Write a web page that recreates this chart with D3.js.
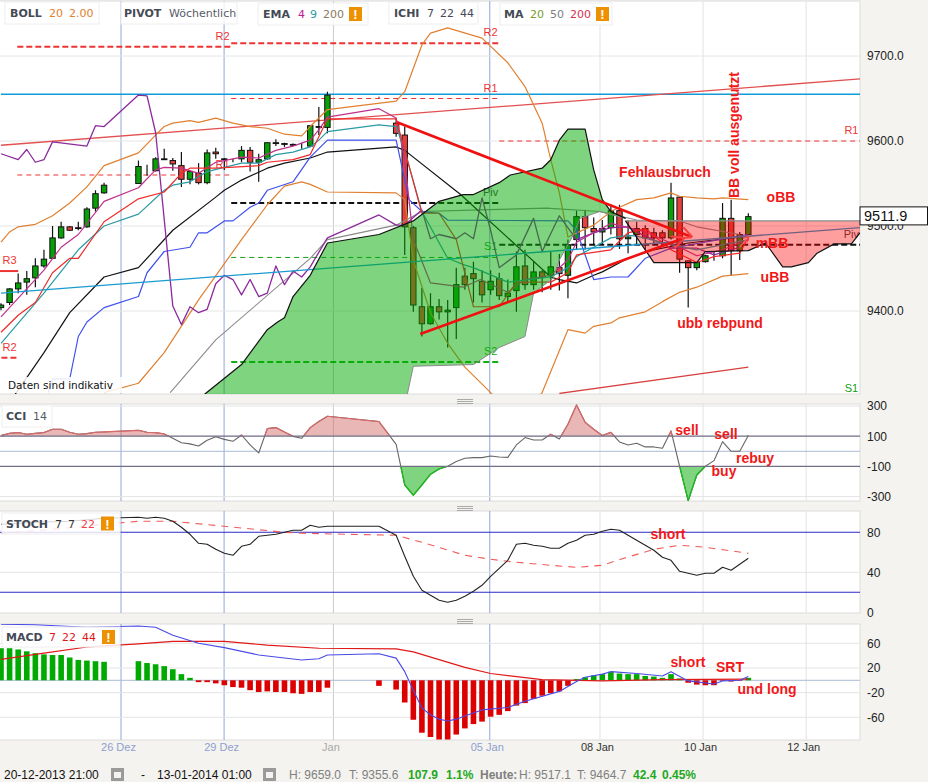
<!DOCTYPE html>
<html>
<head>
<meta charset="utf-8">
<script src="https://cdn.jsdelivr.net/npm/d3@7/dist/d3.min.js"></script>
<style>
  html, body { margin: 0; padding: 0; background: #f4f3ef; }
  svg { display: block; }
  text { font-family: 'Liberation Sans', Arial, sans-serif; }
  .ui { font-family: 'DejaVu Sans', sans-serif; }
</style>
</head>
<body>
<svg id="chart" width="928" height="782"></svg>
<script>

var n = null;

// candles, one slot per 4h bar, null where the market was closed
var candleOpen = [
  9404,9410,9426,9434,9439,9453,9462,9486,9499,9498,
  9499,9521,9539,n,n,n,9550,9567,9565,9578,
  9577,9571,9555,9562,9551,9587,9579,9578,9579,9589,
  9575,9579,9598,9597,9596,9594,9594,9617,9616,n,
  n,n,n,n,9652,n,9621,9607,9498,9405,
  9385,9405,9399,9404,9441,9444,9435,9425,9438,9417,
  9424,9453,9431,9446,9442,9451,9442,9484,9511,9497,
  9493,9498,9518,9485,9490,9497,9492,9492,9486,9534,
  9459,9451,9458,9465,9465,9509,9471,9490
];
var candleHigh = [
  9409,9427,9444,9447,9462,9472,9500,9505,9500,9505,
  9522,9542,9551,n,n,n,9577,9572,9581,9591,
  9580,9587,9566,9574,9590,9592,9580,9579,9594,9593,
  9585,9598,9602,9598,9597,9598,9618,9640,9658,n,
  n,n,n,n,9652,n,9627,9617,9500,9427,
  9421,9414,9413,9451,9451,9458,9448,9448,9445,9437,
  9470,9472,9458,9448,9470,9467,9484,9518,9519,9510,
  9507,9525,9525,9507,9505,9501,9498,9495,9551,9534,
  9459,9457,9466,9470,9527,9531,9493,9515
];
var candleLow = [
  9401,9407,9421,9419,9428,9451,9462,9485,9494,9495,
  9498,9517,9538,n,n,n,9550,9559,9564,9578,
  9565,9546,9549,9549,9549,9579,9566,9575,9575,9564,
  9552,9578,9594,9593,9594,9591,9593,9607,9609,n,
  n,n,n,n,9651,n,9605,9466,9399,9370,
  9384,9390,9357,9367,9425,9410,9410,9419,9413,9411,
  9399,9425,9425,9422,9425,9424,9415,9472,9472,9478,
  9478,9490,9473,9468,9478,9472,9478,9478,9484,9445,
  9404,9448,9457,9459,9462,9442,9460,9490
];
var candleClose = [
  9407,9426,9433,9438,9453,9461,9486,9499,9495,9497,
  9520,9538,9548,n,n,n,9570,9567,9579,9579,
  9573,9555,9564,9551,9586,9585,9578,9578,9589,9575,
  9578,9598,9597,9596,9595,9594,9618,9616,9654,n,
  n,n,n,n,9652,n,9609,9499,9407,9385,
  9405,9399,9401,9431,9431,9438,9419,9435,9418,9421,
  9452,9431,9446,9440,9452,9444,9478,9511,9498,9493,
  9497,9518,9485,9487,9497,9486,9486,9486,9533,9461,
  9451,9457,9465,9465,9509,9471,9490,9511
];

// indicator lines as [ bar, price ]
var bollUpper = [[0,9481],[1,9493],[2,9499],[4,9502],[6,9512],[8,9527],[10,9546],[12,9571],[16,9586],[18,9607],[19,9617],[20,9621],[22,9624],[23,9622],[25,9627],[27,9621],[29,9617],[31,9615],[33,9608],[35,9606],[36,9617],[38,9637],[46,9647],[47,9658],[49,9713],[50,9727],[52,9733],[56,9721],[59,9692],[61,9664],[63,9621],[64,9578],[65,9539],[66,9487],[69,9501],[71,9517],[72,9522],[74,9531],[76,9533],[78,9539],[79,9535],[81,9533],[83,9532],[84,9533],[87,9531]];
var bollLower = [[12,9304],[16,9315],[19,9351],[23,9413],[28,9484],[31,9525],[33,9547],[35,9552],[36,9549],[38,9540],[46,9539],[47,9531],[48,9460],[50,9398],[52,9362],[54,9334],[57,9304],[60,9266],[63,9304],[66,9378],[68,9374],[69,9382],[71,9386],[72,9392],[75,9399],[77,9411],[79,9422],[81,9428],[84,9441],[87,9444]];
var emaBlack = [[0,9279],[2,9307],[5,9351],[8,9398],[12,9440],[16,9451],[20,9495],[25,9534],[26,9542],[28,9554],[31,9568],[33,9574],[36,9580],[38,9587],[46,9593],[47,9589],[53.5,9537],[64,9440],[65,9437],[67,9433],[69,9442],[70,9446],[73,9462],[76,9472],[80,9480],[87,9488]];
var maBlue = [[5.5,9304],[6,9320],[8,9320],[9,9370],[10,9387],[12,9404],[16,9417],[17,9445],[19,9470],[22,9475],[23,9492],[24,9492],[26,9506],[27,9506],[29,9522],[30,9527],[31,9542],[34,9552],[36,9581],[38,9601],[46,9601],[47.5,9531],[49,9517],[51,9515],[52,9507],[66,9506],[67,9495],[69,9437],[71,9440],[73,9440],[75,9462],[78,9474],[87,9490]];
var maGray = [[19.7,9304],[25,9366],[36,9462],[38,9484],[46,9501],[49,9517],[55.8,9519],[63.5,9521],[69.7,9517],[74,9507],[79,9506],[81,9499],[86,9490]];
var emaPink = [[0,9393],[5,9448],[7,9475],[9,9490],[12,9529],[16,9545],[18,9566],[19,9569],[21,9568],[23,9562],[25,9575],[27,9579],[28,9581],[30,9580],[32,9589],[34,9594],[36,9601],[37,9613],[38,9628],[44,9638],[46,9627],[47,9578],[48,9484],[50,9433],[53.8,9428],[55.8,9437],[59,9422],[61,9437],[64,9442],[66,9460],[67,9481],[69,9492],[71,9503],[75,9493],[78,9480],[81,9465],[84,9472],[87,9484]];
var ichiPurple = [[0,9585],[2,9578],[3,9590],[4,9575],[5,9578],[6,9599],[10,9594],[11,9618],[12,9617],[16,9654],[17,9653],[18,9610],[20,9406],[21,9384],[22,9405],[23,9398],[24,9402],[25,9432],[26,9442],[27,9437],[28,9419],[29,9437],[30,9417],[31,9421],[32,9453],[33,9431],[34,9447],[35,9440],[36,9452],[38,9486],[44,9513],[46,9501],[47,9501],[49,9519],[50,9485],[51,9490],[53,9485],[54,9492],[55,9485],[56,9533],[57,9495],[58,9451],[60,9466],[62,9509],[63,9470],[65,9512],[67,9484],[69,9492],[71,9498],[73,9499],[74,9493],[78,9474],[81,9474],[83,9466],[86,9475]];
var emaTeal = [[0,9362],[5,9421],[9,9472],[12,9500],[16,9514],[19,9542],[20,9548],[22,9552],[24,9564],[28,9574],[30,9574],[32,9584],[34,9587],[36,9593],[37,9601],[38,9611],[44,9619],[46,9617],[47,9589],[49,9517],[52,9462],[54,9454],[55,9451],[59,9434],[64,9440],[66,9451],[67,9464],[71,9486],[73,9489],[74,9488],[78,9478],[81,9472],[87,9484]];
var maRed = [[0,9375],[2,9395],[4,9410],[6,9445],[8,9462],[9,9462],[12,9505],[16,9532],[19,9540],[21,9562],[22,9568],[25,9568],[30,9571],[31,9575],[34,9578],[36,9584],[38,9626],[46,9626],[47,9589],[49,9515],[51,9515],[53,9484],[55,9405],[58,9405],[60,9434],[64,9434],[66,9445],[67,9466],[71,9472],[73,9492],[75,9497],[78,9472],[81,9457],[83,9464],[86,9468],[87,9487]];

// ichimoku cloud edges
var cloudGreenTop = [[23.7,9302],[28,9337],[31,9378],[32.2,9387],[33,9392],[34,9417],[36,9442],[38,9480],[44,9490],[48,9506],[51,9529],[53.8,9537],[55,9537],[58,9551],[59.3,9560],[63,9568],[64,9578],[65,9601],[66,9614],[68,9614],[69,9566],[70,9531],[71,9517],[72.7,9509]];
var cloudGreenBase = [[23.7,9270],[46,9270],[47.3,9302],[48,9335],[55,9337],[58,9357],[61,9370],[62,9421],[64.3,9439],[65,9460],[66.5,9487],[67.4,9509],[69.7,9517],[72.7,9509]];
var cloudRedTop = [[72.7,9506],[100,9506]];
var cloudRedBase = [[72.7,9506],[76,9457],[81,9457],[82,9470],[87,9471],[89,9480],[91,9452],[92,9452],[94,9457],[95,9468],[97,9479],[99,9479],[100,9492]];

// straight studies and pivots
var trendUpper = [[0,9595],[100,9673]];
var trendBlue = [[0,9421],[100,9498]];
var trendLower = [[65,9303],[87,9334]];
var levelBlue = [[0,9655],[100,9655]];
var wedgeTop = [[46.1,9622],[80.2,9488]];
var wedgeBottom = [[48.8,9373],[79.3,9485]];
var reboundArrow = [[86,9475],[87,9487]];

var pivotNames = [ 'R3', 'R2', 'R2', 'R1', 'R2', 'R1', 'Piv', 'S1', 'S2', 'R1', 'Piv', 'S1' ];
var pivotFrom = [ -1, -1, 1.9, 1.9, 26.8, 26.8, 26.8, 26.8, 26.8, 58, 58, 58 ];
var pivotTo = [ 2, 2, 26.8, 26.8, 58, 58, 58, 58, 58, 100, 100, 100 ];
var pivotPrice = [ 9447, 9345, 9711, 9560, 9715, 9650, 9527, 9463, 9340, 9600, 9478, 9297 ];

// lower panes
var cciValues = [
  104,119,124,113,119,124,146,146,126,113,
  117,126,128,n,n,n,139,126,124,115,
  86,57,49,35,73,97,79,66,108,42,
  -11,150,157,128,99,86,157,197,232,n,
  n,n,n,n,197,n,46,-223,-291,-223,
  -152,-117,-99,-68,-46,-42,-42,-31,-38,-40,
  42,91,75,75,113,82,179,307,192,146,
  104,126,62,42,53,29,29,20,135,-99,
  -327,-157,-99,-62,64,0,0,104
];
var stochK = [
  88,n,n,n,90,n,n,n,91,n,
  n,n,94,n,n,n,95,94,95,94,
  91,85,78,69,68,63,59,57,66,68,
  76,77,78,80,82,82,87,85,86,n,
  n,n,n,n,86,n,77,56,36,22,
  17,12,10,12,16,21,27,36,44,52,
  68,69,67,66,64,64,69,72,77,78,
  81,83,82,77,72,67,62,55,52,41,
  39,37,39,39,45,42,48,54
];
var stochD = [[0,79],[6,83],[12,88],[16,91],[20,91],[26,86],[33,80],[35,79],[46,77],[49,70],[54,57],[57,53],[60,50],[64,47],[67,45],[70,47],[72.5,54],[76,63],[79,67],[82,65],[87,59]];
var macdHist = [
  52,52,50,47,44,42,41,41,37,33,
  32,31,30,n,n,n,31,28,26,23,
  18,10,4,-3,-3,-5,-8,-11,-12,-16,
  -19,-18,-19,-19,-21,-22,-19,-19,-12,n,
  n,n,n,n,-9,n,-15,-36,-64,-85,
  -92,-96,-96,-88,-78,-71,-67,-59,-56,-50,
  -41,-37,-30,-25,-21,-18,-9,2,5,8,
  10,14,11,10,10,7,6,4,10,3,
  -4,-7,-8,-8,-1,-2,-1,4
];
var macdFast = [[0,91],[4,90],[10,86],[16,88],[18,86],[20,73],[23,60],[26,53],[30,41],[35,33],[37,35],[38,41],[44,43],[46,36],[47,14],[48,-16],[49,-45],[50,-56],[51,-63],[52,-66],[53,-63],[54,-58],[56,-48],[59,-44],[61,-34],[65,-18],[67,-2],[68,5],[70,10],[71,14],[74,11],[77,7],[78,14],[80,-1],[83,-6],[84,-1],[86,0],[87,6]];
var macdSlow = [[0,34],[5,44],[10,54],[16,59],[20,63],[26,63],[31,57],[37,52],[46,51],[48,46],[54,21],[57,11],[63,1],[70,-1],[77,1],[87,2]];

// axes
var dateTicks = [ 13.97, 25.97, 38.7, 56.9, 69.73, 81.73, 93.73 ];
var dateLabels = [ '26 Dez', '29 Dez', 'Jan', '05 Jan', '08 Jan', '10 Jan', '12 Jan' ];
var priceTicks = [ 9700, 9600, 9500, 9400 ];
var cciTicks = [ 300, 100, -100, -300 ];
var stochTicks = [ 80, 40, 0 ];
var macdTicks = [ 60, 20, -20, -60 ];
var lastPrice = 9511.9;

var gridColors = [ '#93a6d8', '#93a6d8', '#cccccc', '#93a6d8', '#e2e2e2', '#e2e2e2', '#e2e2e2' ];
var dateColors = [ '#8e9fd0', '#8e9fd0', '#aaaaaa', '#8e9fd0', '#333333', '#333333', '#333333' ];

var svg = d3.select( '#chart' );

var x = d3.scaleLinear().domain( [ 0, 100 ] ).range( [ 1, 860 ] );
var yPrice = d3.scaleLinear().domain( [ 9400, 9700 ] ).range( [ 311, 56 ] );
var yCci = d3.scaleLinear().domain( [ -300, 300 ] ).range( [ 496.6, 406 ] );
var yStoch = d3.scaleLinear().domain( [ 0, 80 ] ).range( [ 612.3, 532.3 ] );
var yMacd = d3.scaleLinear().domain( [ -60, 60 ] ).range( [ 717.3, 643.3 ] );

var panes = [
  { id: 'main', top: 1, bottom: 394 },
  { id: 'cci', top: 404, bottom: 501 },
  { id: 'stoch', top: 511, bottom: 613 },
  { id: 'macd', top: 624, bottom: 740 }
];

function slots( values ) {
  return values.map( ( v, i ) => [ i, v ] ).filter( d => d[ 1 ] !== null );
}

function path_for( y ) {
  return d3.line().x( d => x( d[ 0 ] ) ).y( d => y( d[ 1 ] ) );
}

function draw_line( g, data, y, color, width, dash ) {
  return g.append( 'path' )
    .attr( 'd', path_for( y )( data ) )
    .attr( 'fill', 'none' )
    .attr( 'stroke', color )
    .attr( 'stroke-width', width )
    .attr( 'stroke-dasharray', dash || null )
    .attr( 'stroke-linejoin', 'round' );
}

function draw_level( g, y, value, color, width ) {
  g.append( 'line' )
    .attr( 'x1', 0 ).attr( 'x2', 860 )
    .attr( 'y1', y( value ) ).attr( 'y2', y( value ) )
    .attr( 'stroke', color )
    .attr( 'stroke-width', width || 1 );
}

function draw_pane( pane ) {

  svg.append( 'clipPath' )
    .attr( 'id', 'clip-' + pane.id )
    .append( 'rect' )
      .attr( 'x', 0 ).attr( 'y', pane.top )
      .attr( 'width', 860 ).attr( 'height', pane.bottom - pane.top );

  svg.append( 'rect' )
    .attr( 'x', -1 ).attr( 'y', pane.top )
    .attr( 'width', 861 ).attr( 'height', pane.bottom - pane.top )
    .attr( 'fill', '#ffffff' )
    .attr( 'stroke', '#dcdcdc' );

  var g = svg.append( 'g' ).attr( 'clip-path', 'url(#clip-' + pane.id + ')' );

  g.selectAll( '.date-grid' )
    .data( dateTicks )
    .enter()
    .append( 'line' )
      .attr( 'x1', d => x( d ) ).attr( 'x2', d => x( d ) )
      .attr( 'y1', pane.top ).attr( 'y2', pane.bottom )
      .attr( 'stroke', ( d, i ) => gridColors[ i ] );

  return g;

}

function draw_value_axis( y, ticks, format ) {

  var axis = svg.append( 'g' )
    .attr( 'transform', 'translate(860,0)' )
    .call( d3.axisRight( y ).tickValues( ticks ).tickSize( 0 ).tickPadding( 7 ).tickFormat( format ) );

  axis.select( '.domain' ).remove();
  axis.selectAll( 'text' )
    .attr( 'font-family', "'Liberation Sans', Arial, sans-serif" )
    .attr( 'font-size', 12 )
    .attr( 'fill', '#222222' );

}

function draw_tag( x0, y0, width, height, parts, warn_x ) {

  svg.append( 'rect' )
    .attr( 'x', x0 ).attr( 'y', y0 )
    .attr( 'width', width ).attr( 'height', height )
    .attr( 'fill', '#ffffff' ).attr( 'fill-opacity', 0.82 )
    .attr( 'stroke', '#eeeeee' );

  parts.forEach( p => {
    svg.append( 'text' )
      .attr( 'class', 'ui' )
      .attr( 'x', p.x )
      .attr( 'y', y0 + height / 2 + 4 )
      .attr( 'font-size', 11 )
      .attr( 'font-weight', p.bold ? 'bold' : 'normal' )
      .attr( 'fill', p.color )
      .text( p.text );
  } );

  if( warn_x ) {
    svg.append( 'rect' )
      .attr( 'x', warn_x ).attr( 'y', y0 + height / 2 - 7 )
      .attr( 'width', 13 ).attr( 'height', 14 )
      .attr( 'fill', '#ee9100' );
    svg.append( 'text' )
      .attr( 'x', warn_x + 6.5 )
      .attr( 'y', y0 + height / 2 + 5 )
      .attr( 'text-anchor', 'middle' )
      .attr( 'font-size', 13 )
      .attr( 'font-weight', 'bold' )
      .attr( 'fill', '#ffffff' )
      .text( '!' );
  }

}

function draw_note( text, xc, yc, size, rotate ) {
  svg.append( 'text' )
    .attr( 'x', xc )
    .attr( 'y', yc )
    .attr( 'text-anchor', 'middle' )
    .attr( 'dominant-baseline', 'central' )
    .attr( 'font-size', size || 14 )
    .attr( 'font-weight', 'bold' )
    .attr( 'fill', '#f21818' )
    .attr( 'transform', rotate ? 'rotate(' + rotate + ' ' + xc + ' ' + yc + ')' : null )
    .text( text );
}

function draw_candles( g ) {

  var bars = d3.range( candleOpen.length ).filter( i => candleOpen[ i ] !== null );

  g.selectAll( '.wick' )
    .data( bars )
    .enter()
    .append( 'line' )
      .attr( 'x1', i => x( i ) ).attr( 'x2', i => x( i ) )
      .attr( 'y1', i => yPrice( candleHigh[ i ] ) )
      .attr( 'y2', i => yPrice( candleLow[ i ] ) )
      .attr( 'stroke', '#111111' )
      .attr( 'stroke-width', 1.2 );

  g.selectAll( '.body' )
    .data( bars )
    .enter()
    .append( 'rect' )
      .attr( 'x', i => x( i ) - 2.7 )
      .attr( 'width', 5.4 )
      .attr( 'y', i => yPrice( Math.max( candleOpen[ i ], candleClose[ i ] ) ) )
      .attr( 'height', i => Math.abs( yPrice( candleOpen[ i ] ) - yPrice( candleClose[ i ] ) ) )
      .attr( 'fill', i => candleClose[ i ] >= candleOpen[ i ] ? '#08a008' : '#e8403c' )
      .attr( 'stroke', '#111111' )
      .attr( 'stroke-width', 1 );

}

function draw_pivots( g ) {

  var styles = {
    R3: { color: '#ee3333', width: 2, dash: null },
    R2: { color: '#ee3333', width: 2, dash: '6 3' },
    R1: { color: '#ee3333', width: 1, dash: '5 4' },
    Piv: { color: '#111111', width: 2, dash: '6 3' },
    S1: { color: '#11a011', width: 1, dash: '5 4' },
    S2: { color: '#11b011', width: 2, dash: '6 3' }
  };

  pivotNames.forEach( ( name, i ) => {
    var s = styles[ name ];
    draw_line( g, [ [ pivotFrom[ i ], pivotPrice[ i ] ], [ pivotTo[ i ], pivotPrice[ i ] ] ], yPrice, s.color, s.width, s.dash );
    g.append( 'text' )
      .attr( 'x', x( pivotTo[ i ] - 1 ) )
      .attr( 'y', yPrice( pivotPrice[ i ] ) - 7 )
      .attr( 'text-anchor', 'middle' )
      .attr( 'font-size', 11 )
      .attr( 'fill', name === 'Piv' ? '#444444' : s.color )
      .text( name );
  } );

}

function draw_main( g ) {

  priceTicks.forEach( v => draw_level( g, yPrice, v, '#e6e6e6' ) );

  draw_pivots( g );

  draw_line( g, levelBlue, yPrice, '#0f9bd7', 1.3 );
  draw_line( g, trendUpper, yPrice, '#e25050', 1.3 );
  draw_line( g, trendLower, yPrice, '#d84040', 1.3 );

  draw_candles( g );

  draw_line( g, maGray, yPrice, '#8a8a8a', 1.1 );
  draw_line( g, emaBlack, yPrice, '#111111', 1.2 );
  draw_line( g, bollUpper, yPrice, '#e08030', 1.2 );
  draw_line( g, bollLower, yPrice, '#e08030', 1.2 );
  draw_line( g, maBlue, yPrice, '#3f4fee', 1.2 );
  draw_line( g, ichiPurple, yPrice, '#8c2a9c', 1.3 );
  draw_line( g, emaPink, yPrice, '#c0308a', 1.2 );
  draw_line( g, emaTeal, yPrice, '#2a9aa4', 1.2 );
  draw_line( g, maRed, yPrice, '#f02a2a', 1.2 );
  draw_line( g, trendBlue, yPrice, '#1a9bd0', 1.3 );

  // cloud goes over the candles and lines, they show through tinted
  var cloud = path_for( yPrice );
  g.append( 'path' )
    .attr( 'd', cloud( cloudGreenTop.concat( cloudGreenBase.slice().reverse() ) ) )
    .attr( 'fill', '#00aa00' )
    .attr( 'fill-opacity', 0.5 );
  g.append( 'path' )
    .attr( 'd', cloud( cloudRedTop.concat( cloudRedBase.slice().reverse() ) ) )
    .attr( 'fill', '#ff0000' )
    .attr( 'fill-opacity', 0.38 );

  draw_line( g, cloudGreenBase, yPrice, '#8a8a8a', 1 );
  draw_line( g, cloudRedTop, yPrice, '#8a8a8a', 1.2 );
  draw_line( g, cloudGreenTop, yPrice, '#111111', 1.2 );
  draw_line( g, cloudRedBase, yPrice, '#111111', 1.2 );

  draw_line( g, wedgeTop, yPrice, '#f01010', 2.6 ).attr( 'marker-end', 'url(#head)' );
  draw_line( g, wedgeBottom, yPrice, '#f01010', 2.6 ).attr( 'marker-end', 'url(#head)' );
  draw_line( g, reboundArrow, yPrice, '#f86060', 1.2 ).attr( 'marker-end', 'url(#head)' );

}

function draw_cci( g ) {

  draw_level( g, yCci, 300, '#e4e4e4' );
  draw_level( g, yCci, -300, '#e4e4e4' );
  draw_level( g, yCci, 0, '#a9bcd4' );

  var data = slots( cciValues );

  svg.append( 'clipPath' ).attr( 'id', 'cci-high' ).append( 'rect' )
    .attr( 'x', 0 ).attr( 'y', 404 ).attr( 'width', 860 ).attr( 'height', yCci( 100 ) - 404 );
  svg.append( 'clipPath' ).attr( 'id', 'cci-low' ).append( 'rect' )
    .attr( 'x', 0 ).attr( 'y', yCci( -100 ) ).attr( 'width', 860 ).attr( 'height', 501 - yCci( -100 ) );

  var areaHigh = d3.area().x( d => x( d[ 0 ] ) ).y0( yCci( 100 ) ).y1( d => yCci( d[ 1 ] ) );
  var areaLow = d3.area().x( d => x( d[ 0 ] ) ).y0( yCci( -100 ) ).y1( d => yCci( d[ 1 ] ) );

  draw_line( g, data, yCci, '#666666', 1.1 );

  var high = g.append( 'g' ).attr( 'clip-path', 'url(#cci-high)' );
  high.append( 'path' ).attr( 'd', areaHigh( data ) ).attr( 'fill', '#d06060' ).attr( 'fill-opacity', 0.45 );
  draw_line( high, data, yCci, '#d86a6a', 1.2 );

  var low = g.append( 'g' ).attr( 'clip-path', 'url(#cci-low)' );
  low.append( 'path' ).attr( 'd', areaLow( data ) ).attr( 'fill', '#00aa00' ).attr( 'fill-opacity', 0.5 );
  draw_line( low, data, yCci, '#1cb81c', 1.3 );

  draw_level( g, yCci, 100, '#6f6f85', 1.2 );
  draw_level( g, yCci, -100, '#6f6f85', 1.2 );

}

function draw_stoch( g ) {

  draw_level( g, yStoch, 40, '#e4e4e4' );
  draw_level( g, yStoch, 80, '#2a2ac8', 1.1 );
  draw_level( g, yStoch, 20, '#2a2ac8', 1.1 );

  draw_line( g, stochD, yStoch, '#f25a5a', 1.1, '7 6' );
  draw_line( g, slots( stochK ), yStoch, '#222222', 1.1 );

}

function draw_macd( g ) {

  macdTicks.forEach( v => draw_level( g, yMacd, v, '#e4e4e4' ) );
  draw_level( g, yMacd, 0, '#a9bcd4' );

  g.selectAll( '.bar' )
    .data( slots( macdHist ) )
    .enter()
    .append( 'rect' )
      .attr( 'x', d => x( d[ 0 ] ) - 2.8 )
      .attr( 'width', 5.6 )
      .attr( 'y', d => yMacd( Math.max( d[ 1 ], 0 ) ) )
      .attr( 'height', d => Math.abs( yMacd( d[ 1 ] ) - yMacd( 0 ) ) )
      .attr( 'fill', d => d[ 1 ] >= 0 ? '#00aa00' : '#dc0000' );

  draw_line( g, macdSlow, yMacd, '#e01818', 1.2 );
  draw_line( g, macdFast, yMacd, '#4a4ae6', 1.1 );

}

function draw_calendar( x0, y0 ) {
  svg.append( 'rect' )
    .attr( 'x', x0 ).attr( 'y', y0 ).attr( 'width', 13 ).attr( 'height', 13 ).attr( 'fill', '#9a9a9a' );
  svg.append( 'rect' )
    .attr( 'x', x0 + 3 ).attr( 'y', y0 + 4 ).attr( 'width', 7 ).attr( 'height', 6 ).attr( 'fill', '#f4f3ef' );
}

function draw_footer() {

  var items = [
    { x: 4, text: '20-12-2013 21:00', color: '#111111' },
    { x: 141, text: '-', color: '#111111' },
    { x: 157, text: '13-01-2014 01:00', color: '#111111' },
    { x: 289, text: 'H: 9659.0', color: '#808080' },
    { x: 349, text: 'T: 9355.6', color: '#808080' },
    { x: 408, text: '107.9', color: '#22a822', bold: true },
    { x: 446, text: '1.1%', color: '#22a822', bold: true },
    { x: 480, text: 'Heute:', color: '#808080', bold: true },
    { x: 519, text: 'H: 9517.1', color: '#808080' },
    { x: 577, text: 'T: 9464.7', color: '#808080' },
    { x: 633, text: '42.4', color: '#22a822', bold: true },
    { x: 662, text: '0.45%', color: '#22a822', bold: true }
  ];

  svg.selectAll( '.footer' )
    .data( items )
    .enter()
    .append( 'text' )
      .attr( 'x', d => d.x )
      .attr( 'y', 779 )
      .attr( 'font-size', 12 )
      .attr( 'font-weight', d => d.bold ? 'bold' : 'normal' )
      .attr( 'fill', d => d.color )
      .text( d => d.text );

  draw_calendar( 111, 768 );
  draw_calendar( 263, 768 );

}

svg.append( 'defs' )
  .append( 'marker' )
    .attr( 'id', 'head' )
    .attr( 'viewBox', '0 0 10 10' )
    .attr( 'refX', 8 ).attr( 'refY', 5 )
    .attr( 'markerWidth', 5 ).attr( 'markerHeight', 5 )
    .attr( 'orient', 'auto' )
    .append( 'path' )
      .attr( 'd', 'M0,0L10,5L0,10' )
      .attr( 'fill', 'none' )
      .attr( 'stroke', '#f84040' )
      .attr( 'stroke-width', 1.6 );

var groups = panes.map( draw_pane );

draw_main( groups[ 0 ] );
draw_cci( groups[ 1 ] );
draw_stoch( groups[ 2 ] );
draw_macd( groups[ 3 ] );

// pane grips
[ 399, 506, 619 ].forEach( top => {
  [ 0.5, 2.5, 4.5 ].forEach( step => {
    svg.append( 'line' )
      .attr( 'x1', 457 ).attr( 'x2', 473 )
      .attr( 'y1', top + step ).attr( 'y2', top + step )
      .attr( 'stroke', '#aaaaaa' );
  } );
} );

draw_value_axis( yPrice, priceTicks, d => d.toFixed( 1 ) );
draw_value_axis( yCci, cciTicks, d => d );
draw_value_axis( yStoch, stochTicks, d => d );
draw_value_axis( yMacd, macdTicks, d => d );

var dateAxis = svg.append( 'g' )
  .attr( 'transform', 'translate(0,740)' )
  .call( d3.axisBottom( x ).tickValues( dateTicks ).tickSize( 0 ).tickPadding( 3 ).tickFormat( ( d, i ) => dateLabels[ i ] ) );
dateAxis.select( '.domain' ).remove();
dateAxis.selectAll( 'text' )
  .attr( 'font-family', "'Liberation Sans', Arial, sans-serif" )
  .attr( 'font-size', 11 )
  .attr( 'dx', -3 )
  .attr( 'fill', ( d, i ) => dateColors[ i ] );

svg.append( 'rect' )
  .attr( 'x', 860 ).attr( 'y', yPrice( lastPrice ) - 9 )
  .attr( 'width', 67.5 ).attr( 'height', 18 )
  .attr( 'fill', '#ffffff' )
  .attr( 'stroke', '#111111' );
svg.append( 'text' )
  .attr( 'x', 864 ).attr( 'y', yPrice( lastPrice ) + 5 )
  .attr( 'font-size', 14.5 )
  .attr( 'fill', '#111111' )
  .text( lastPrice.toFixed( 1 ) );

draw_tag( 5, 2, 94, 22, [
  { x: 10, text: 'BOLL', color: '#444a55', bold: true },
  { x: 49, text: '20', color: '#e08030' },
  { x: 69, text: '2.00', color: '#e08030' }
] );
draw_tag( 121, 2, 116, 22, [
  { x: 124, text: 'PIVOT', color: '#444a55', bold: true },
  { x: 169, text: 'Wöchentlich', color: '#555b66' }
] );
draw_tag( 258, 3, 110, 22, [
  { x: 263, text: 'EMA', color: '#444a55', bold: true },
  { x: 298, text: '4', color: '#c0208a' },
  { x: 310, text: '9', color: '#2a9aa4' },
  { x: 323, text: '200', color: '#8a7a60' }
], 349 );
draw_tag( 389, 2, 89, 22, [
  { x: 394, text: 'ICHI', color: '#444a55', bold: true },
  { x: 427, text: '7', color: '#444a55' },
  { x: 440, text: '22', color: '#444a55' },
  { x: 460, text: '44', color: '#444a55' }
] );
draw_tag( 500, 3, 112, 22, [
  { x: 504, text: 'MA', color: '#444a55', bold: true },
  { x: 530, text: '20', color: '#7a9a30' },
  { x: 550, text: '50', color: '#808080' },
  { x: 570, text: '200', color: '#d83050' }
], 596 );
draw_tag( 2, 405, 50, 22, [
  { x: 6, text: 'CCI', color: '#444a55', bold: true },
  { x: 33, text: '14', color: '#555b66' }
] );
draw_tag( 2, 513, 118, 21, [
  { x: 6, text: 'STOCH', color: '#444a55', bold: true },
  { x: 55, text: '7', color: '#333333' },
  { x: 68, text: '7', color: '#333333' },
  { x: 81, text: '22', color: '#f04050' }
], 101 );
draw_tag( 2, 627, 118, 20, [
  { x: 6, text: 'MACD', color: '#444a55', bold: true },
  { x: 49, text: '7', color: '#e01818' },
  { x: 62, text: '22', color: '#e01818' },
  { x: 82, text: '44', color: '#e01818' }
], 102 );

svg.append( 'rect' )
  .attr( 'x', 5 ).attr( 'y', 377 )
  .attr( 'width', 117 ).attr( 'height', 16 )
  .attr( 'fill', '#ffffff' ).attr( 'fill-opacity', 0.85 );
svg.append( 'text' )
  .attr( 'class', 'ui' )
  .attr( 'x', 8 ).attr( 'y', 389 )
  .attr( 'font-size', 10.5 )
  .attr( 'fill', '#111111' )
  .text( 'Daten sind indikativ' );

draw_note( 'Fehlausbruch', 665, 172 );
draw_note( 'BB voll ausgenutzt', 734, 135, 14, -90 );
draw_note( 'oBB', 781, 197 );
draw_note( 'mBB', 772, 243 );
draw_note( 'uBB', 775, 277 );
draw_note( 'ubb rebpund', 720, 323 );
draw_note( 'sell', 687, 430 );
draw_note( 'sell', 726, 434 );
draw_note( 'rebuy', 755, 458 );
draw_note( 'buy', 724, 471 );
draw_note( 'short', 668, 534 );
draw_note( 'short', 688, 662 );
draw_note( 'SRT', 730, 667 );
draw_note( 'und long', 767, 689 );

draw_footer();

</script>
</body>
</html>
